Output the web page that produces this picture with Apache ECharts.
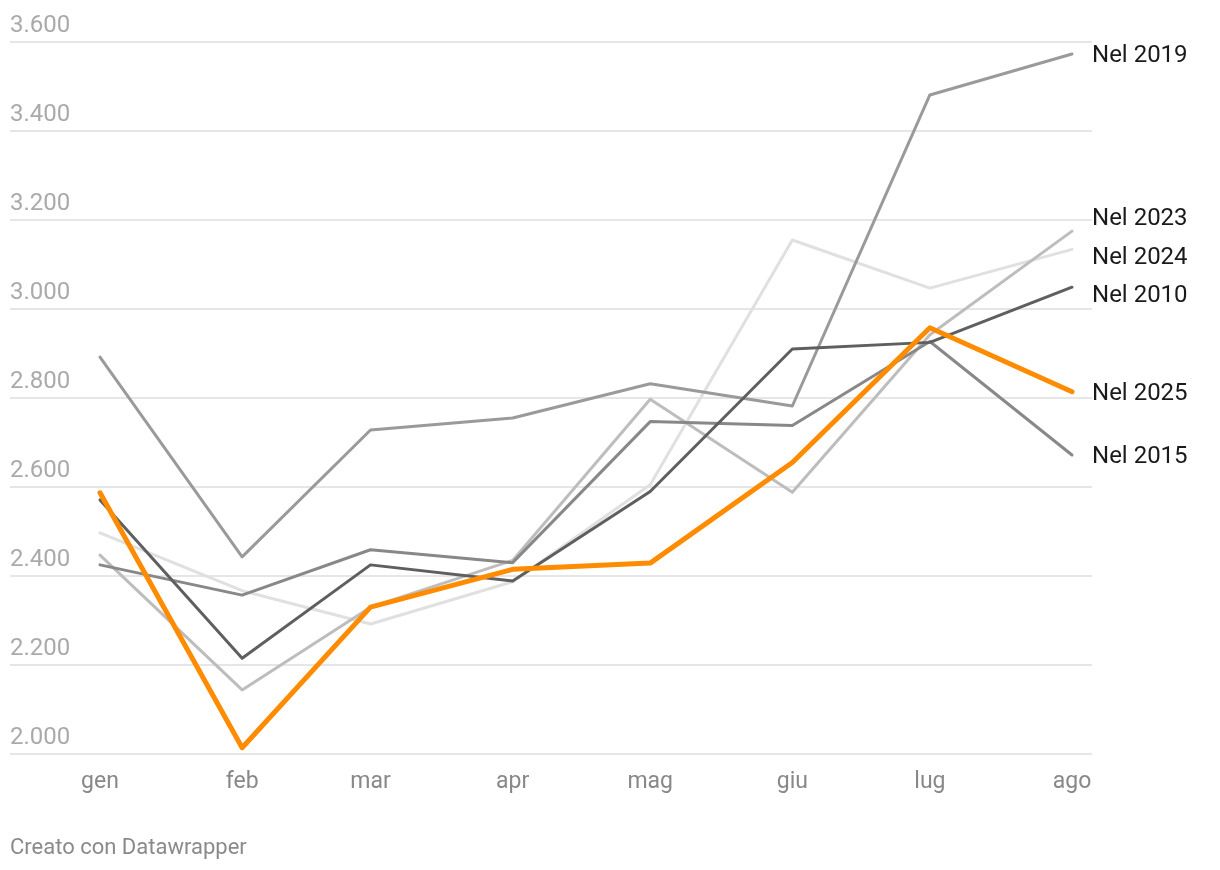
<!DOCTYPE html>
<html>
<head>
<meta charset="utf-8">
<script src="https://cdn.jsdelivr.net/npm/echarts@6/dist/echarts.min.js"></script>
<style>
html,body{margin:0;padding:0;background:#fff;}
#chart{width:1220px;height:870px;}
</style>
</head>
<body>
<div id="chart"></div>
<script>
const monthDates = ['2025-01-01','2025-02-01','2025-03-01','2025-04-01','2025-05-01','2025-06-01','2025-07-01','2025-08-01'];
const monthLabels = ['gen','feb','mar','apr','mag','giu','lug','ago'];
const yTicks = [2000, 2200, 2400, 2600, 2800, 3000, 3200, 3400, 3600];

const nel2024 = [2497, 2367, 2292, 2387, 2605, 3155, 3047, 3134];
const nel2023 = [2447, 2144, 2330, 2435, 2797, 2588, 2942, 3175];
const nel2019 = [2892, 2443, 2728, 2755, 2832, 2782, 3481, 3573];
const nel2015 = [2425, 2357, 2459, 2430, 2747, 2738, 2927, 2672];
const nel2010 = [2571, 2215, 2425, 2389, 2590, 2910, 2925, 3049];
const nel2025 = [2587, 2014, 2330, 2415, 2429, 2655, 2958, 2814];

const DAY = 86400000;
function ts(s){ const p = s.split('-').map(Number); return Date.UTC(p[0], p[1]-1, p[2]); }
const t0 = ts(monthDates[0]);
// day offsets of each month start (time scale)
const xs = monthDates.map(d => Math.round((ts(d) - t0) / DAY));

function fmtNum(v){ return String(v).replace(/\B(?=(\d{3})+(?!\d))/g, '.'); }

function mk(name, values, color, width, dy, z){
  return {
    name: name,
    type: 'line',
    data: values.map((v,i)=>[xs[i], v]),
    symbol: 'none',
    z: z,
    lineStyle: {color: color, width: width, cap: 'round', join: 'round'},
    itemStyle: {color: color},
    emphasis: {disabled: true},
    endLabel: {
      show: true,
      formatter: name,
      color: '#1a1a1a',
      fontFamily: 'Roboto',
      fontSize: 24,
      distance: 20
    },
    labelLayout: {dy: dy}
  };
}

const chart = echarts.init(document.getElementById('chart'), null, {renderer: 'canvas'});
chart.setOption({
  animation: false,
  backgroundColor: '#ffffff',
  textStyle: {fontFamily: 'Roboto'},
  grid: {left: 10, right: 128, top: 42, bottom: 116, containLabel: false},
  xAxis: {
    type: 'value',
    min: xs[0] - 19.63,
    max: xs[xs.length-1] + 4.36,
    axisLine: {show: false},
    axisTick: {show: false},
    splitLine: {show: false},
    axisLabel: {
      customValues: xs,
      formatter: function(v){ const i = xs.indexOf(Math.round(v)); return i >= 0 ? monthLabels[i] : ''; },
      color: '#888888',
      fontFamily: 'Roboto',
      fontSize: 23,
      margin: 17,
      showMinLabel: true,
      showMaxLabel: true
    }
  },
  yAxis: {
    type: 'value',
    min: yTicks[0],
    max: yTicks[yTicks.length-1],
    interval: 200,
    axisLine: {show: false},
    axisTick: {show: false},
    splitLine: {lineStyle: {color: '#e6e6e6', width: 2}},
    axisLabel: {
      inside: true,
      margin: 0,
      align: 'left',
      verticalAlign: 'bottom',
      padding: [0, 0, 4, 0],
      color: '#aaaaaa',
      fontFamily: 'Roboto',
      fontSize: 24,
      formatter: function(v){ return fmtNum(v); }
    }
  },
  graphic: [{
    type: 'text',
    left: 10,
    top: 837,
    style: {text: 'Creato con Datawrapper', fill: '#8a8a8a', font: '22px Roboto'}
  }],
  series: [
    mk('Nel 2024', nel2024, '#e0e0e0', 3, 9, 2),
    mk('Nel 2023', nel2023, '#bdbdbd', 3, -12, 3),
    mk('Nel 2019', nel2019, '#9a9a9a', 3, 2, 4),
    mk('Nel 2015', nel2015, '#888888', 3, 2, 5),
    mk('Nel 2010', nel2010, '#5f5f5f', 3, 9, 6),
    mk('Nel 2025', nel2025, '#ff8c00', 5, 2, 7)
  ]
});
</script>
</body>
</html>
